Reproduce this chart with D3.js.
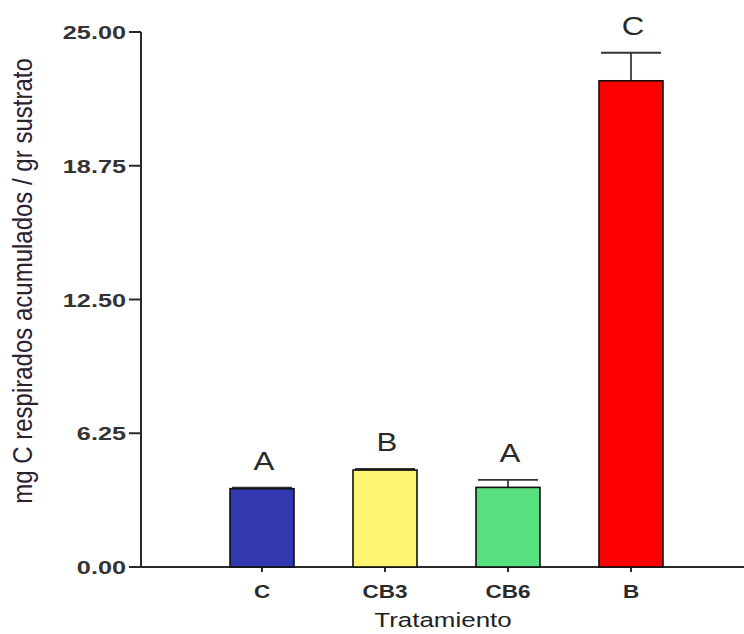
<!DOCTYPE html>
<html>
<head>
<meta charset="utf-8">
<script src="https://cdn.jsdelivr.net/npm/d3@7"></script>
<style>
html,body{margin:0;padding:0;background:#fff;}
svg{display:block;}
text{font-family:"Liberation Sans",Arial,sans-serif;}
</style>
</head>
<body>
<svg id="chart" width="744" height="634"></svg>
<script>
const categories = ["C", "CB3", "CB6", "B"];
const values = [3.66, 4.53, 3.72, 22.72];
const errors = [0.05, 0.05, 0.35, 1.31];
const letters = ["A", "B", "A", "C"];
const colors = ["#3239b0", "#fff570", "#58df80", "#ff0000"];
const yTicks = [0, 6.25, 12.5, 18.75, 25];
const yTitle = "mg C respirados acumulados / gr sustrato";
const xTitle = "Tratamiento";

const svg = d3.select("#chart");
const SX = 1.33; // horizontal stretch of the original picture's text

const y = d3.scaleLinear().domain([0, 25]).range([567, 32]);
const x = d3.scalePoint().domain(categories).range([262, 631]);
const barW = 64;
const axisX = 141;

// y axis
const gy = svg.append("g");
gy.append("line").attr("x1", axisX).attr("x2", axisX)
  .attr("y1", y(25)).attr("y2", y(0))
  .attr("stroke", "#2a2a2a").attr("stroke-width", 2);
yTicks.forEach(t => {
  gy.append("line").attr("x1", axisX - 12).attr("x2", axisX)
    .attr("y1", y(t)).attr("y2", y(t))
    .attr("stroke", "#2a2a2a").attr("stroke-width", 2);
  gy.append("text")
    .attr("transform", `translate(${axisX - 15},${y(t) + 7}) scale(${SX},1)`)
    .attr("text-anchor", "end")
    .attr("font-size", 19).attr("font-weight", "bold").attr("fill", "#333")
    .text(d3.format(".2f")(t));
});

// x axis
const gx = svg.append("g");
gx.append("line").attr("x1", axisX - 1).attr("x2", 744)
  .attr("y1", y(0)).attr("y2", y(0))
  .attr("stroke", "#2a2a2a").attr("stroke-width", 2);
categories.forEach(c => {
  gx.append("line").attr("x1", x(c)).attr("x2", x(c))
    .attr("y1", y(0)).attr("y2", y(0) + 5)
    .attr("stroke", "#2a2a2a").attr("stroke-width", 2);
  gx.append("text")
    .attr("transform", `translate(${x(c)},${y(0) + 31}) scale(${SX * 0.94},1)`)
    .attr("text-anchor", "middle")
    .attr("font-size", 18).attr("font-weight", "bold").attr("fill", "#2a2a2a")
    .text(c);
});

// error bars
categories.forEach((c, i) => {
  const cx = x(c);
  svg.append("line").attr("x1", cx).attr("x2", cx)
    .attr("y1", y(values[i])).attr("y2", y(values[i] + errors[i]))
    .attr("stroke", "#222").attr("stroke-width", 1.6);
  svg.append("line").attr("x1", cx - 30).attr("x2", cx + 30)
    .attr("y1", y(values[i] + errors[i])).attr("y2", y(values[i] + errors[i]))
    .attr("stroke", "#333").attr("stroke-width", 1.8);
});

// bars
svg.append("g").selectAll("rect").data(categories).join("rect")
  .attr("x", c => x(c) - barW / 2)
  .attr("width", barW)
  .attr("y", (c, i) => y(values[i]))
  .attr("height", (c, i) => y(0) - y(values[i]))
  .attr("fill", (c, i) => colors[i])
  .attr("stroke", "#111").attr("stroke-width", 1.6);

// significance letters
categories.forEach((c, i) => {
  svg.append("text")
    .attr("transform", `translate(${x(c) + 2},${y(values[i] + errors[i]) - 18}) scale(1.25,1)`)
    .attr("text-anchor", "middle")
    .attr("font-size", 25).attr("fill", "#2a2a2a")
    .text(letters[i]);
});

// axis titles
svg.append("text")
  .attr("transform", `translate(443,627) scale(${SX},1)`)
  .attr("text-anchor", "middle")
  .attr("font-size", 19.5).attr("fill", "#222")
  .text(xTitle);

svg.append("text")
  .attr("transform", `translate(32,281) scale(1.15,1) rotate(-90)`)
  .attr("text-anchor", "middle")
  .attr("font-size", 24).attr("fill", "#2b2230")
  .text(yTitle);
</script>
</body>
</html>
